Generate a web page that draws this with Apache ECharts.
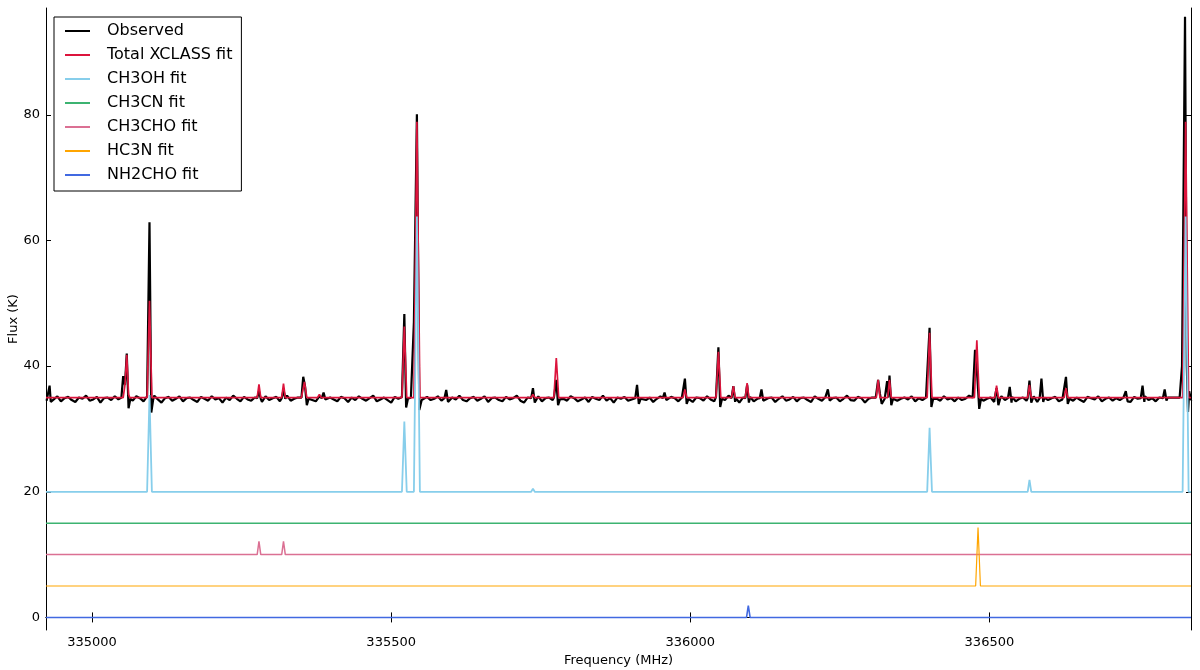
<!DOCTYPE html>
<html>
<head>
<meta charset="utf-8">
<title>Spectrum fit</title>
<script src="https://cdn.jsdelivr.net/npm/echarts@6/dist/echarts.min.js"></script>
<style>
  html, body { margin: 0; padding: 0; background: #fff; }
  #chart { width: 1200px; height: 670px; }
</style>
</head>
<body>
<div id="chart"></div>
<script>
// axis range and tick labels
const freqMin = 334923;
const freqMax = 336837;
const freqTicks = [335000, 335500, 336000, 336500];
const fluxMin = -2;
const fluxMax = 97;
const fluxTicks = [0, 20, 40, 60, 80];

// observed baseline, one reading every 6 MHz starting at 334924
const obsNoiseStart = 334924;
const obsNoiseStep = 6;
const obsNoise = [
  34.5,35.0,34.7,35.2,34.4,34.9,35.1,34.6,34.3,35.0,34.8,35.3,34.5,34.7,35.1,34.2,34.9,35.0,34.6,35.2,
  34.7,34.3,35.1,34.8,34.5,35.2,34.9,34.4,35.0,34.6,35.3,34.7,34.2,34.9,35.1,34.5,34.8,35.2,34.4,34.9,
  35.0,34.6,34.3,35.1,34.8,34.5,35.2,34.7,34.9,34.2,35.0,34.6,35.3,34.8,34.4,35.1,34.7,34.5,35.0,34.8,
  34.3,35.2,34.6,34.9,35.1,34.4,34.7,35.3,34.5,34.8,35.0,34.2,34.9,35.1,34.6,34.4,35.2,34.8,34.5,35.0,
  34.7,34.4,35.1,34.9,34.3,35.0,34.6,35.2,34.8,34.5,34.9,35.3,34.4,34.7,35.0,34.6,34.2,35.1,34.8,34.5,
  35.2,34.7,34.4,35.0,34.9,34.3,35.1,34.6,34.8,35.2,34.5,34.9,34.2,35.0,34.7,35.3,34.6,34.4,34.9,35.1,
  34.5,34.8,35.2,34.3,34.9,35.0,34.6,34.4,35.1,34.7,34.9,35.3,34.5,34.2,35.0,34.8,34.6,35.2,34.4,34.9,
  35.0,34.6,34.3,35.1,34.8,34.5,35.2,34.9,34.4,34.7,35.0,34.3,35.1,34.8,34.6,35.3,34.5,34.9,34.2,35.0,
  34.8,35.1,34.5,34.7,35.2,34.4,34.9,34.6,35.0,34.3,34.8,35.2,34.7,34.5,35.1,34.9,34.4,35.0,34.6,34.8,
  34.3,35.0,34.9,34.5,35.2,34.7,34.4,35.1,34.8,34.6,35.3,34.5,34.9,34.2,35.0,34.7,35.1,34.4,34.8,35.2,
  34.6,34.9,35.0,34.3,34.8,35.2,34.5,34.7,35.1,34.4,34.9,35.0,34.6,34.3,35.2,34.8,34.5,35.1,34.7,34.9,
  35.0,34.4,34.8,35.3,34.6,34.5,35.1,34.9,34.2,34.8,35.0,34.7,35.2,34.4,34.9,34.6,35.1,34.5,34.8,35.0,
  34.7,35.2,34.4,34.9,34.6,35.0,34.3,35.1,34.8,34.5,35.2,34.7,34.9,34.4,35.0,34.6,34.8,35.3,34.5,34.7,
  35.1,34.5,34.8,35.0,34.3,34.9,35.2,34.6,34.7,35.1,34.4,34.8,35.0,34.5,34.9,35.2,34.3,34.7,35.0,34.6,
  34.9,35.1,34.4,34.7,35.2,34.8,34.5,35.0,34.6,34.3,35.1,34.9,34.7,35.2,34.4,34.8,35.0,34.5,34.9,34.6,
  35.0,34.7,34.3,35.1,34.8,34.5,35.2,34.6,34.9,34.4,35.0,34.7,35.1,34.5,34.8,34.9,34.6,35.0,34.8,34.7
];

// observed emission lines [freq, flux]
const obsLines = [
  [[334927,34.8],[334929,36.9],[334931,34.3]],
  [[335049,35.0],[335052,38.4],[335055,37.0],[335058,42.0],[335061,33.3],[335064,34.8]],
  [[335092,35.2],[335096,62.9],[335099,32.6],[335102,34.6]],
  [[335276,34.9],[335279,36.0],[335282,34.8]],
  [[335317,34.9],[335320,36.2],[335323,34.8]],
  [[335350,35.0],[335353,38.3],[335356,36.8],[335359,33.8],[335362,34.8]],
  [[335384,34.9],[335387,35.8],[335390,34.7]],
  [[335518,35.1],[335522,48.3],[335525,33.4],[335528,34.8]],
  [[335533,35.0],[335538,47.0],[335543,80.1],[335547,33.0],[335551,34.6]],
  [[335589,34.9],[335592,36.2],[335595,34.3]],
  [[335734,34.9],[335737,36.5],[335740,34.2]],
  [[335772,35.0],[335776,37.8],[335779,33.8],[335782,34.7]],
  [[335908,34.9],[335911,37.0],[335914,34.0],[335917,34.8]],
  [[335954,34.9],[335957,35.8],[335960,34.6]],
  [[335987,35.0],[335991,38.0],[335994,34.0],[335997,34.8]],
  [[336043,35.1],[336047,43.0],[336050,33.5],[336053,34.8]],
  [[336069,34.9],[336072,36.8],[336075,34.3]],
  [[336092,34.9],[336095,37.0],[336098,34.2]],
  [[336116,34.9],[336119,36.3],[336122,34.5]],
  [[336227,34.9],[336230,36.3],[336233,34.5]],
  [[336310,35.0],[336314,37.8],[336317,35.6],[336320,34.0],[336325,34.8],[336329,37.6],[336331,35.0],[336333,38.5],[336336,33.8],[336339,34.8]],
  [[336396,35.1],[336400,46.1],[336403,33.5],[336406,34.8]],
  [[336472,35.0],[336476,42.6],[336480,38.0],[336483,33.2],[336486,34.8]],
  [[336509,35.0],[336512,36.5],[336515,33.8],[336518,34.8]],
  [[336531,34.9],[336534,36.7],[336537,34.2]],
  [[336564,34.9],[336567,37.7],[336570,34.2]],
  [[336584,34.9],[336587,38.0],[336590,34.3]],
  [[336624,35.0],[336628,38.3],[336631,34.0],[336634,34.8]],
  [[336725,34.9],[336728,36.0],[336731,34.4]],
  [[336753,34.9],[336756,36.9],[336759,34.3]],
  [[336790,34.9],[336793,36.3],[336796,34.5]],
  [[336798,35.0],[336818,35.0]],
  [[336819,35.0],[336822,40.0],[336827,95.6],[336830,40.0],[336832,32.7],[336834,36.0],[336837,34.6]]
];

// model fits [freq, flux]
const totalFit = [
  [334923,35],
  [335052,35],[335055,37],[335058,41.8],[335061,35.5],[335063,35],
  [335092,35],[335096,50.4],[335100,35],
  [335276,35],[335279,37.1],[335282,35],
  [335317,35],[335320,37.2],[335323,35],
  [335350,35],[335355,37.5],[335359,35],
  [335377,35],[335380,35.5],[335383,35],
  [335518,35],[335522,46.3],[335526,35],
  [335538,35],[335543,78.9],[335548,35],
  [335734,35],[335737,35.5],[335740,35],
  [335772,35],[335776,41.3],[335780,35],
  [335988,35],[335991,36.3],[335994,35],
  [336043,35],[336047,42.3],[336051,35],
  [336069,35],[336072,36.8],[336075,35],
  [336092,35],[336095,37.3],[336098,35],
  [336311,35],[336314,37.8],[336317,35],
  [336330,35],[336333,37.8],[336336,35],
  [336396,35],[336400,45.3],[336404,35],
  [336475,35],[336479,44.1],[336483,35],
  [336509,35],[336512,36.9],[336515,35],
  [336564,35],[336567,37.0],[336570,35],
  [336625,35],[336628,36.5],[336631,35],
  [336823,35],[336828,78.9],[336833,35],
  [336837,35]
];
const ch3ohFit = [
  [334923,20],
  [335092,20],[335096,35.4],[335100,20],
  [335322,20],[335325,20.3],[335328,20],
  [335518,20],[335522,31.2],[335526,20],
  [335538,20],[335543,63.8],[335548,20],
  [335734,20],[335737,20.5],[335740,20],
  [335845,20],[335848,20.2],[335851,20],
  [336058,20],[336061,20.3],[336064,20],
  [336396,20],[336400,30.2],[336404,20],
  [336564,20],[336567,21.9],[336570,20],
  [336700,20],[336703,20.2],[336706,20],
  [336823,20],[336828,63.8],[336833,20],
  [336837,20]
];
const ch3cnFit = [[334923,15],[336837,15]];
const ch3choFit = [
  [334923,10],
  [335276,10],[335279,12.1],[335282,10],
  [335317,10],[335320,12.1],[335323,10],
  [336837,10]
];
const hc3nFit = [[334923,5],[336477,5],[336481,14.3],[336485,5],[336837,5]];
const nh2choFit = [[334923,0],[336094,0],[336097,1.9],[336100,0],[336837,0]];

// merge baseline readings with the line points
function buildObserved() {
  const spans = obsLines.map(g => [g[0][0], g[g.length - 1][0]]);
  const pts = [];
  obsNoise.forEach((v, i) => {
    const f = obsNoiseStart + i * obsNoiseStep;
    if (!spans.some(s => f >= s[0] && f <= s[1])) pts.push([f, v]);
  });
  obsLines.forEach(g => g.forEach(p => pts.push(p)));
  pts.sort((a, b) => a[0] - b[0]);
  return pts;
}

const font = 'DejaVu Sans';
const plain = v => String(v);

function lineSeries(name, data, color, width) {
  return {
    name: name,
    type: 'line',
    data: data,
    showSymbol: false,
    symbol: 'none',
    lineStyle: { color: color, width: width },
    itemStyle: { color: color },
    animation: false
  };
}

const chart = echarts.init(document.getElementById('chart'));
chart.setOption({
  backgroundColor: '#fff',
  grid: { left: 46, right: 9, top: 8, bottom: 40, containLabel: false, outerBoundsMode: 'none' },
  legend: {
    orient: 'vertical',
    left: 54,
    top: 17,
    icon: 'rect',
    itemWidth: 25,
    itemHeight: 2,
    itemGap: 8,
    padding: [6, 9, 8, 11],
    borderColor: '#000',
    borderWidth: 1,
    backgroundColor: '#fff',
    textStyle: { fontFamily: font, fontSize: 16, color: '#000', lineHeight: 16, padding: [0, 0, 0, 12] }
  },
  xAxis: [
    {
      type: 'value',
      min: freqMin,
      max: freqMax,
      position: 'bottom',
      name: 'Frequency (MHz)',
      nameLocation: 'middle',
      nameGap: 24,
      nameMoveOverlap: false,
      nameTextStyle: { fontFamily: font, fontSize: 13, color: '#000' },
      axisLine: { lineStyle: { color: '#000', width: 1 } },
      axisTick: { inside: true, length: 5, customValues: freqTicks, lineStyle: { color: '#000' } },
      axisLabel: { customValues: freqTicks, formatter: plain, fontFamily: font, fontSize: 13, color: '#000', margin: 6 },
      splitLine: { show: false }
    },
    {
      type: 'value',
      min: freqMin,
      max: freqMax,
      position: 'top',
      axisLine: { lineStyle: { color: '#000', width: 1 } },
      axisTick: { inside: true, length: 5, customValues: freqTicks, lineStyle: { color: '#000' } },
      axisLabel: { show: false },
      splitLine: { show: false }
    }
  ],
  yAxis: [
    {
      type: 'value',
      min: fluxMin,
      max: fluxMax,
      position: 'left',
      name: 'Flux (K)',
      nameLocation: 'middle',
      nameGap: 26,
      nameMoveOverlap: false,
      nameTextStyle: { fontFamily: font, fontSize: 13, color: '#000' },
      axisLine: { show: true, lineStyle: { color: '#000', width: 1 } },
      axisTick: { show: true, inside: true, length: 5, customValues: fluxTicks, lineStyle: { color: '#000' } },
      axisLabel: { customValues: fluxTicks, formatter: plain, fontFamily: font, fontSize: 13, color: '#000', margin: 6 },
      splitLine: { show: false }
    },
    {
      type: 'value',
      min: fluxMin,
      max: fluxMax,
      position: 'right',
      axisLine: { show: true, lineStyle: { color: '#000', width: 1 } },
      axisTick: { show: true, inside: true, length: 5, customValues: fluxTicks, lineStyle: { color: '#000' } },
      axisLabel: { show: false },
      splitLine: { show: false }
    }
  ],
  series: [
    lineSeries('Observed', buildObserved(), '#000000', 2.2),
    lineSeries('Total XCLASS fit', totalFit, '#dc143c', 1.7),
    lineSeries('CH3OH fit', ch3ohFit, '#87ceeb', 1.8),
    lineSeries('CH3CN fit', ch3cnFit, '#3cb371', 1.5),
    lineSeries('CH3CHO fit', ch3choFit, '#db7093', 1.5),
    lineSeries('HC3N fit', hc3nFit, '#ffa500', 1.2),
    lineSeries('NH2CHO fit', nh2choFit, '#4169e1', 1.6)
  ]
});
</script>
</body>
</html>
